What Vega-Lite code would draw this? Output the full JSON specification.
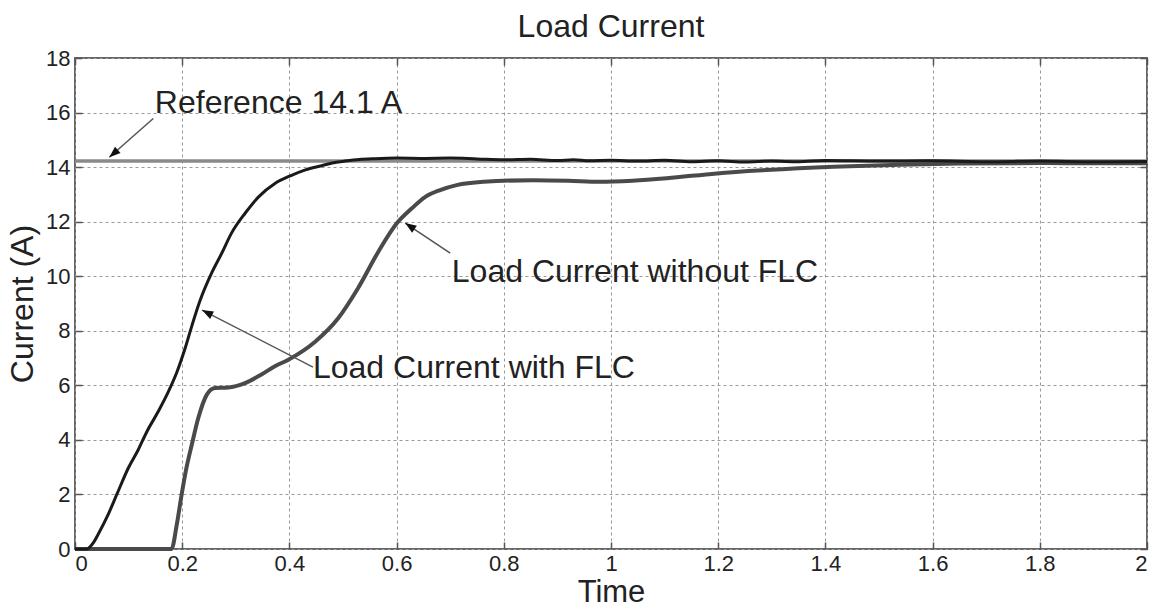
{
  "$schema": "https://vega.github.io/schema/vega-lite/v6.json",
  "width": 1072,
  "height": 491,
  "autosize": {"type": "none"},
  "padding": {"left": 75, "top": 58, "right": 9, "bottom": 61},
  "background": "white",
  "title": {"text": "Load Current", "fontSize": 32, "font": "Liberation Sans", "fontWeight": "normal", "color": "#222", "frame": "group", "anchor": "middle", "offset": 3},
  "config": {
    "view": {"stroke": "#666", "strokeWidth": 2},
    "axis": {"labelFont": "Liberation Sans", "titleFont": "Liberation Sans", "labelFontSize": 22, "titleFontSize": 31, "titleFontWeight": "normal", "labelColor": "#222", "titleColor": "#222", "domain": false, "gridColor": "#999", "gridDash": [3, 3], "gridWidth": 1, "tickColor": "#555", "tickWidth": 1.5}
  },
  "resolve": {"axis": {"x": "independent", "y": "independent"}},
  "datasets": {
    "withFLC": [
      {"t": 0, "i": 0}, {"t": 0.022, "i": 0}, {"t": 0.035, "i": 0.25}, {"t": 0.0435, "i": 0.55}, {"t": 0.062, "i": 1.27}, {"t": 0.078, "i": 2.0}, {"t": 0.0995, "i": 2.97}, {"t": 0.118, "i": 3.64}, {"t": 0.134, "i": 4.3}, {"t": 0.155, "i": 5.03}, {"t": 0.174, "i": 5.76}, {"t": 0.19, "i": 6.48}, {"t": 0.205, "i": 7.33}, {"t": 0.218, "i": 8.18}, {"t": 0.233, "i": 9.09}, {"t": 0.255, "i": 10.12}, {"t": 0.274, "i": 10.85}, {"t": 0.292, "i": 11.58}, {"t": 0.317, "i": 12.3}, {"t": 0.342, "i": 12.9}, {"t": 0.373, "i": 13.4}, {"t": 0.404, "i": 13.7}, {"t": 0.43, "i": 13.9}, {"t": 0.46, "i": 14.05}, {"t": 0.48, "i": 14.15}, {"t": 0.504, "i": 14.22}, {"t": 0.53, "i": 14.28}, {"t": 0.56, "i": 14.31}, {"t": 0.6, "i": 14.33}, {"t": 0.65, "i": 14.32}, {"t": 0.7, "i": 14.33}, {"t": 0.75, "i": 14.3}, {"t": 0.8, "i": 14.27}, {"t": 0.85, "i": 14.29}, {"t": 0.9, "i": 14.24}, {"t": 0.93, "i": 14.27}, {"t": 0.96, "i": 14.23}, {"t": 1.0, "i": 14.25}, {"t": 1.05, "i": 14.22}, {"t": 1.1, "i": 14.25}, {"t": 1.15, "i": 14.2}, {"t": 1.2, "i": 14.23}, {"t": 1.25, "i": 14.19}, {"t": 1.3, "i": 14.22}, {"t": 1.35, "i": 14.2}, {"t": 1.4, "i": 14.24}, {"t": 1.5, "i": 14.22}, {"t": 1.6, "i": 14.23}, {"t": 1.7, "i": 14.2}, {"t": 1.8, "i": 14.22}, {"t": 1.9, "i": 14.2}, {"t": 2.0, "i": 14.21}
    ],
    "withoutFLC": [
      {"t": 0, "i": 0}, {"t": 0.18, "i": 0}, {"t": 0.19, "i": 0.91}, {"t": 0.199, "i": 2.0}, {"t": 0.208, "i": 2.98}, {"t": 0.218, "i": 3.83}, {"t": 0.23, "i": 4.8}, {"t": 0.246, "i": 5.66}, {"t": 0.261, "i": 5.9}, {"t": 0.286, "i": 5.92}, {"t": 0.317, "i": 6.08}, {"t": 0.348, "i": 6.4}, {"t": 0.373, "i": 6.7}, {"t": 0.398, "i": 6.94}, {"t": 0.448, "i": 7.6}, {"t": 0.491, "i": 8.46}, {"t": 0.528, "i": 9.56}, {"t": 0.566, "i": 10.9}, {"t": 0.6, "i": 11.93}, {"t": 0.628, "i": 12.48}, {"t": 0.653, "i": 12.9}, {"t": 0.68, "i": 13.15}, {"t": 0.712, "i": 13.34}, {"t": 0.762, "i": 13.46}, {"t": 0.855, "i": 13.52}, {"t": 0.92, "i": 13.5}, {"t": 0.979, "i": 13.46}, {"t": 1.04, "i": 13.5}, {"t": 1.104, "i": 13.59}, {"t": 1.197, "i": 13.77}, {"t": 1.29, "i": 13.89}, {"t": 1.415, "i": 14.01}, {"t": 1.539, "i": 14.09}, {"t": 1.65, "i": 14.13}, {"t": 1.8, "i": 14.15}, {"t": 1.9, "i": 14.14}, {"t": 2.0, "i": 14.14}
    ],
    "reference": [{"t": 0, "i": 14.22}, {"t": 2, "i": 14.22}],
    "arrows": [
      {"t": 0.146, "i": 15.78, "t2": 0.064, "i2": 14.36, "angle": 229},
      {"t": 0.444, "i": 6.67, "t2": 0.237, "i2": 8.76, "angle": 297},
      {"t": 0.7, "i": 10.85, "t2": 0.616, "i2": 11.95, "angle": 304}
    ],
    "labels": [
      {"t": 0.149, "i": 16.35, "label": "Reference 14.1 A"},
      {"t": 0.444, "i": 6.63, "label": "Load Current with FLC"},
      {"t": 0.703, "i": 10.15, "label": "Load Current without FLC"}
    ]
  },
  "layer": [
    {
      "data": {"name": "reference"},
      "mark": {"type": "line", "color": "#8a8a8a", "strokeWidth": 3},
      "encoding": {
        "x": {"field": "t", "type": "quantitative", "scale": {"domain": [0, 2], "nice": false}, "axis": {"values": [0, 0.2, 0.4, 0.6, 0.8, 1, 1.2, 1.4, 1.6, 1.8, 2], "format": ".1~f", "title": "Time", "labelPadding": 11, "titlePadding": 3, "tickSize": -7}},
        "y": {"field": "i", "type": "quantitative", "scale": {"domain": [0, 18], "nice": false}, "axis": {"values": [0, 2, 4, 6, 8, 10, 12, 14, 16, 18], "title": "Current (A)", "titleFontSize": 32, "labelPadding": 12, "titlePadding": 6, "tickSize": -7}}
      }
    },
    {
      "data": {"name": "reference"},
      "mark": {"type": "line", "color": "#8a8a8a", "strokeWidth": 3},
      "encoding": {
        "x": {"field": "t", "type": "quantitative", "axis": {"orient": "top", "values": [0, 0.2, 0.4, 0.6, 0.8, 1, 1.2, 1.4, 1.6, 1.8, 2], "labels": false, "grid": false, "title": null, "tickSize": -7}},
        "y": {"field": "i", "type": "quantitative", "axis": {"orient": "right", "values": [0, 2, 4, 6, 8, 10, 12, 14, 16, 18], "labels": false, "grid": false, "title": null, "tickSize": -7}}
      }
    },
    {
      "data": {"name": "withoutFLC"},
      "mark": {"type": "line", "color": "#4a4a4a", "strokeWidth": 4, "interpolate": "monotone"},
      "encoding": {"x": {"field": "t", "type": "quantitative", "axis": null}, "y": {"field": "i", "type": "quantitative", "axis": null}}
    },
    {
      "data": {"name": "withFLC"},
      "mark": {"type": "line", "color": "#1a1a1a", "strokeWidth": 3, "interpolate": "monotone"},
      "encoding": {"x": {"field": "t", "type": "quantitative", "axis": null}, "y": {"field": "i", "type": "quantitative", "axis": null}}
    },
    {
      "data": {"name": "arrows"},
      "mark": {"type": "rule", "color": "#555", "strokeWidth": 1.5},
      "encoding": {"x": {"field": "t", "type": "quantitative", "axis": null}, "y": {"field": "i", "type": "quantitative", "axis": null}, "x2": {"field": "t2"}, "y2": {"field": "i2"}}
    },
    {
      "data": {"name": "arrows"},
      "mark": {"type": "point", "shape": "M0,0L-0.45,1.2L0.45,1.2Z", "filled": true, "color": "#111", "opacity": 1, "size": 350},
      "encoding": {"x": {"field": "t2", "type": "quantitative", "axis": null}, "y": {"field": "i2", "type": "quantitative", "axis": null}, "angle": {"field": "angle", "type": "quantitative", "scale": null}}
    },
    {
      "data": {"name": "labels"},
      "mark": {"type": "text", "align": "left", "baseline": "middle", "font": "Liberation Sans", "fontSize": 32, "color": "#222"},
      "encoding": {"x": {"field": "t", "type": "quantitative", "axis": null}, "y": {"field": "i", "type": "quantitative", "axis": null}, "text": {"field": "label"}}
    }
  ]
}
